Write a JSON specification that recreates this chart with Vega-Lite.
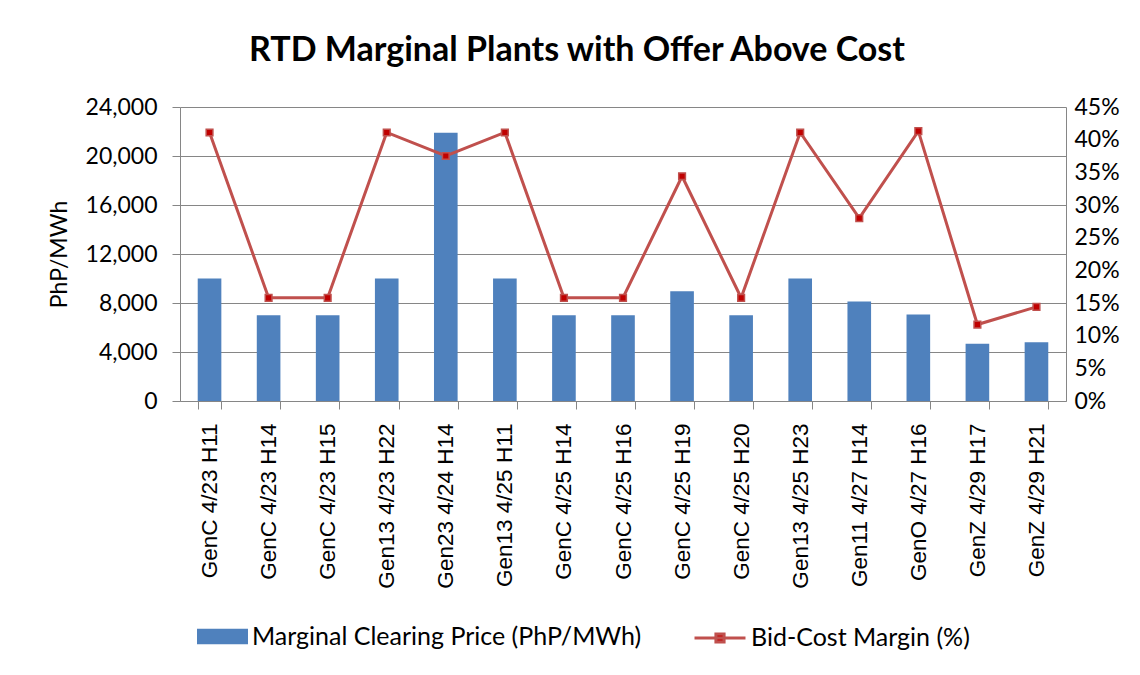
{
  "$schema": "https://vega.github.io/schema/vega-lite/v6.json",
  "autosize": "none",
  "width": 886,
  "height": 294,
  "padding": {"left": 180, "top": 107, "right": 74, "bottom": 274},
  "background": "white",
  "title": {
    "text": "RTD Marginal Plants with Offer Above Cost",
    "font": "Lato",
    "fontSize": 34,
    "fontWeight": "bold",
    "color": "#000000",
    "anchor": "middle",
    "frame": "group",
    "dx": -46,
    "offset": 28
  },
  "data": {
    "values": [
      {"plant": "GenC 4/23 H11", "price": 10000, "margin": 0.411},
      {"plant": "GenC 4/23 H14", "price": 7000, "margin": 0.158},
      {"plant": "GenC 4/23 H15", "price": 7000, "margin": 0.158},
      {"plant": "Gen13 4/23 H22", "price": 10000, "margin": 0.411},
      {"plant": "Gen23 4/24 H14", "price": 21900, "margin": 0.375},
      {"plant": "Gen13 4/25 H11", "price": 10000, "margin": 0.411},
      {"plant": "GenC 4/25 H14", "price": 7000, "margin": 0.158},
      {"plant": "GenC 4/25 H16", "price": 7000, "margin": 0.158},
      {"plant": "GenC 4/25 H19", "price": 8950, "margin": 0.344},
      {"plant": "GenC 4/25 H20", "price": 7000, "margin": 0.158},
      {"plant": "Gen13 4/25 H23", "price": 10000, "margin": 0.411},
      {"plant": "Gen11 4/27 H14", "price": 8130, "margin": 0.28},
      {"plant": "GenO 4/27 H16", "price": 7060, "margin": 0.413},
      {"plant": "GenZ 4/29 H17", "price": 4680, "margin": 0.117},
      {"plant": "GenZ 4/29 H21", "price": 4790, "margin": 0.144}
    ]
  },
  "encoding": {
    "x": {
      "field": "plant",
      "type": "nominal",
      "sort": null,
      "scale": {"paddingInner": 0.6, "paddingOuter": 0.3},
      "axis": {
        "title": null,
        "labelAngle": -90,
        "labelAlign": "right",
        "labelBaseline": "middle",
        "labelFont": "Liberation Sans",
        "labelFontSize": 22.5,
        "labelColor": "#000000",
        "labelPadding": 14,
        "tickBand": "extent",
        "tickSize": 8,
        "tickColor": "#868686",
        "domainColor": "#868686",
        "labelOverlap": false,
        "labelLimit": 300
      }
    }
  },
  "layer": [
    {
      "mark": {"type": "bar", "color": "#4F81BD"},
      "encoding": {
        "y": {
          "field": "price",
          "type": "quantitative",
          "scale": {"domain": [0, 24000], "nice": false},
          "axis": {
            "title": "PhP/MWh",
            "titleFont": "Lato",
            "titleFontSize": 23,
            "titleFontWeight": "normal",
            "titleColor": "#000000",
            "titlePadding": 14,
            "values": [0, 4000, 8000, 12000, 16000, 20000, 24000],
            "format": ",.0f",
            "labelFont": "Lato",
            "labelFontSize": 23,
            "labelColor": "#000000",
            "labelPadding": 15,
            "tickSize": 8,
            "tickColor": "#868686",
            "domainColor": "#868686",
            "grid": true,
            "gridColor": "#868686",
            "gridWidth": 1
          }
        },
        "fill": {
          "datum": "Marginal Clearing Price (PhP/MWh)",
          "type": "nominal",
          "scale": {"range": ["#4F81BD"]},
          "legend": {
            "orient": "none",
            "legendX": 17,
            "legendY": 504,
            "title": null,
            "symbolType": "M-1,-0.3H1V0.3H-1Z",
            "symbolSize": 2600,
            "symbolStrokeWidth": 0,
            "labelFont": "Lato",
            "labelFontSize": 25,
            "labelColor": "#000000",
            "labelOffset": 4,
            "labelLimit": 600
          }
        }
      }
    },
    {
      "mark": {
        "type": "line",
        "color": "#C0504D",
        "strokeWidth": 3,
        "point": {"shape": "square", "size": 45, "filled": true, "fill": "#C00000", "stroke": "#C0504D", "strokeWidth": 1.5}
      },
      "encoding": {
        "y": {
          "field": "margin",
          "type": "quantitative",
          "scale": {"domain": [0, 0.45], "nice": false},
          "axis": {
            "title": null,
            "orient": "right",
            "values": [0, 0.05, 0.1, 0.15, 0.2, 0.25, 0.3, 0.35, 0.4, 0.45],
            "format": ".0%",
            "labelFont": "Lato",
            "labelFontSize": 23,
            "labelColor": "#000000",
            "labelPadding": 8,
            "tickSize": 0,
            "domainColor": "#868686",
            "grid": false
          }
        },
        "stroke": {
          "datum": "Bid-Cost Margin (%)",
          "type": "nominal",
          "scale": {"range": ["#C0504D"]},
          "legend": {
            "orient": "none",
            "legendX": 513,
            "legendY": 504,
            "title": null,
            "symbolType": "M-1,0H1M-0.16,-0.16H0.16V0.16H-0.16Z",
            "symbolSize": 2600,
            "symbolStrokeWidth": 3,
            "symbolFillColor": "#C00000",
            "labelFont": "Lato",
            "labelFontSize": 25,
            "labelColor": "#000000",
            "labelOffset": 4,
            "labelLimit": 600
          }
        }
      }
    }
  ],
  "resolve": {"scale": {"y": "independent", "fill": "independent", "stroke": "independent"}},
  "config": {"view": {"stroke": null}}
}
